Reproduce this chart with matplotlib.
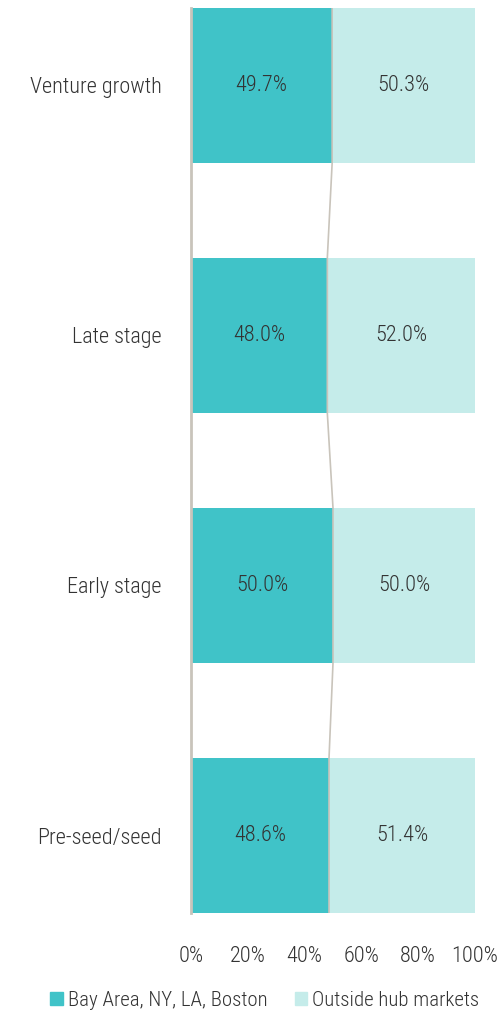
import matplotlib
matplotlib.use("Agg")
import matplotlib.pyplot as plt
from matplotlib.patches import Patch
from matplotlib import font_manager

names = {f.name for f in font_manager.fontManager.ttflist}
fam = [n for n in ["Liberation Sans Narrow", "Roboto Condensed", "Open Sans Condensed", "Lato", "DejaVu Sans"] if n in names]
plt.rcParams['font.family'] = fam
plt.rcParams['font.weight'] = 'light'

categories = ["Venture growth", "Late stage", "Early stage", "Pre-seed/seed"]
hub = [49.7, 48.0, 50.0, 48.6]
outside = [50.3, 52.0, 50.0, 51.4]
series_names = ["Bay Area, NY, LA, Boston", "Outside hub markets"]
xticks = [0, 20, 40, 60, 80, 100]

c_hub = "#40c3c8"
c_out = "#c5ecea"
c_line = "#c9c4bb"
c_text = "#333333"
fs = 16

W, H = 497, 1015
fig = plt.figure(figsize=(W / 100, H / 100), dpi=100)
ax = fig.add_axes([191 / W, 1 - 913 / H, (475 - 191) / W, (913 - 8) / H])

ypos = list(range(len(categories)))
bh = 0.62
ax.barh(ypos, hub, height=bh, color=c_hub, zorder=2)
ax.barh(ypos, outside, left=hub, height=bh, color=c_out, zorder=2)

# connector lines along the boundary
xs, ys = [], []
for i, v in enumerate(hub):
    xs += [v, v]
    ys += [i - bh / 2, i + bh / 2]
ax.plot(xs, ys, color=c_line, lw=1.2, zorder=3)

for i, (a, b) in enumerate(zip(hub, outside)):
    ax.text(a / 2, i, f"{a:.1f}%", ha="center", va="center", fontsize=fs, color=c_text, zorder=4)
    ax.text(a + b / 2, i, f"{b:.1f}%", ha="center", va="center", fontsize=fs, color=c_text, zorder=4)

ax.set_ylim(len(categories) - 1 + bh / 2, -bh / 2)
ax.set_xlim(0, 100)
ax.set_yticks(ypos)
ax.set_yticklabels(categories, fontsize=fs, color=c_text)
ax.set_xticks(xticks)
ax.set_xticklabels([f"{t}%" for t in xticks], fontsize=fs, color=c_text)
ax.tick_params(axis="both", length=0)
ax.tick_params(axis="x", pad=24)
ax.tick_params(axis="y", pad=21)
for s in ["top", "right", "bottom"]:
    ax.spines[s].set_visible(False)
ax.spines["left"].set_color(c_line)
ax.spines["left"].set_linewidth(2)
ax.spines["left"].set_zorder(5)

handles = [Patch(color=c_hub, label=series_names[0]), Patch(color=c_out, label=series_names[1])]
fig.legend(handles=handles, loc="center", bbox_to_anchor=(265 / W, 1 - 1000 / H), ncol=2,
           frameon=False, fontsize=15, handlelength=0.6, handleheight=0.6, handletextpad=0.25,
           columnspacing=1.3, labelcolor=c_text)

fig.savefig("out.png", dpi=100)
